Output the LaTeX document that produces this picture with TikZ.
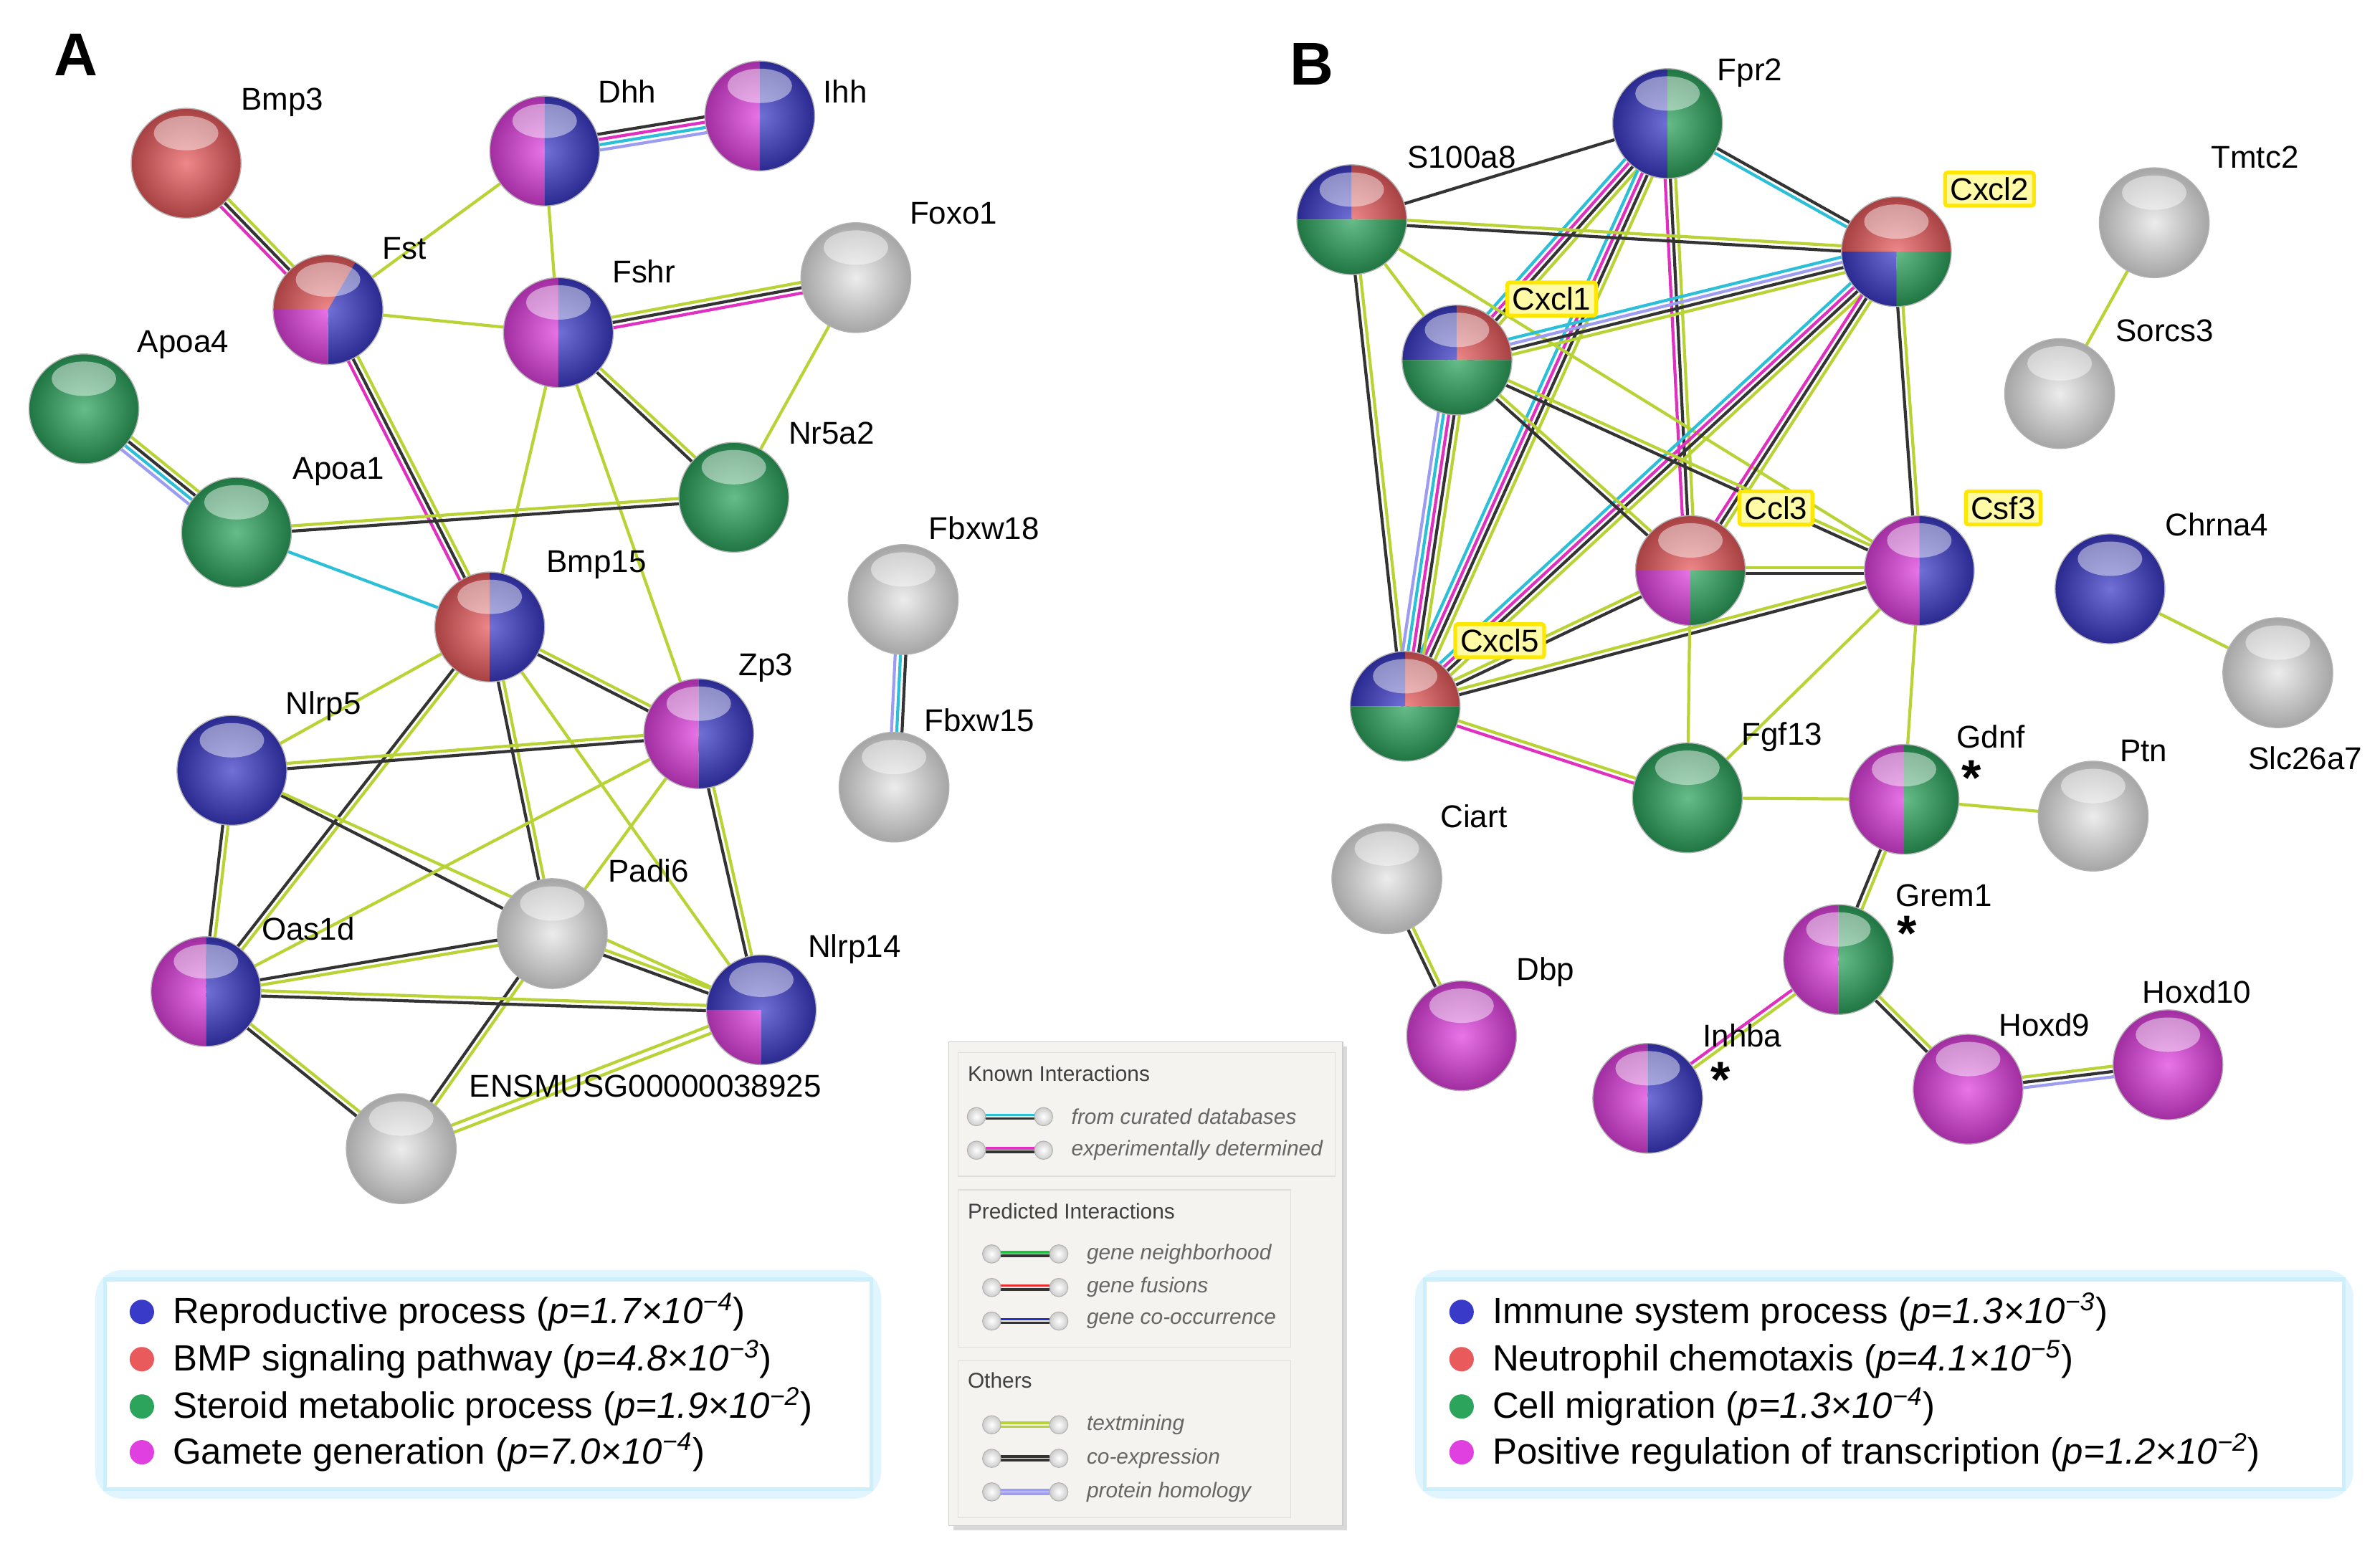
\documentclass[tikz,border=0pt]{standalone}
\usepackage{fontspec}
\setmainfont{Liberation Sans}
\usetikzlibrary{calc,backgrounds}
\definecolor{cR}{HTML}{E85A5C}\definecolor{cB}{HTML}{3A3AC8}\definecolor{cG}{HTML}{2CA45C}
\definecolor{cM}{HTML}{E040E0}\definecolor{cW}{HTML}{E6E6E6}
\definecolor{eL}{HTML}{B8D335}\definecolor{eC}{HTML}{2CC0D8}\definecolor{eM}{HTML}{E030C0}
\definecolor{eH}{HTML}{9C9CF0}\definecolor{eK}{HTML}{333333}
\definecolor{eG}{HTML}{20C040}\definecolor{eR}{HTML}{E83030}\definecolor{eB}{HTML}{2030D0}
\definecolor{lbg}{HTML}{F5F3EF}
\newcommand\ball[3]{%
 \node[circle,minimum size=1.53cm,inner sep=0] (#1) at (#2) {};
 \foreach \cl/\sa/\ea in {#3}{\fill[\cl] (#1.center) -- ++(\sa:0.766cm) arc[start angle=\sa,end angle=\ea,radius=0.766cm] -- cycle;}
 \shade[inner color=white,outer color=black,opacity=0.28] (#1.center) circle (0.766cm);
 \fill[white,opacity=0.45] ($(#1.center)+(0,0.42cm)$) ellipse (0.45cm and 0.24cm);
 \draw[gray!60,line width=0.4pt] (#1.center) circle (0.766cm);}
\newcommand\lnk[3]{\foreach \cl/\o in {#3}{\pgfmathsetlengthmacro\dd{\o*2.1pt}%
 \draw[line width=1.2pt,\cl] ($(#1)!\dd!90:(#2)$) -- ($(#2)!\dd!-90:(#1)$);}}
\tikzset{lab/.style={font=\fontsize{12.5}{15}\selectfont,inner sep=0},
 ybox/.style={lab,fill=yellow!35,draw=yellow!90!orange,line width=1.5pt,inner sep=2pt,rounded corners=1pt},
 leg/.style={font=\fontsize{14.5}{18}\selectfont,anchor=west,inner sep=0},
 sm/.style={font=\fontsize{8.5}{11}\selectfont,anchor=west,inner sep=0,text=gray!80!black},
 smi/.style={sm,font=\fontsize{8.5}{11}\selectfont\itshape}}
\begin{document}
\begin{tikzpicture}[x=0.02128cm,y=-0.02128cm]
\useasboundingbox (0,0) rectangle (1560,1025);
\node[font=\fontsize{24}{26}\selectfont\bfseries] at (50,36) {A};
\node[font=\fontsize{24}{26}\selectfont\bfseries] at (860,42) {B};
% ---------- A nodes
\ball{Bmp3}{122,107}{cR/0/360}
\ball{Dhh}{357,99}{cM/90/270,cB/-90/90}
\ball{Ihh}{498,76}{cM/90/270,cB/-90/90}
\ball{Fst}{215,203}{cR/60/180,cB/-90/60,cM/180/270}
\ball{Fshr}{366,218}{cM/90/270,cB/-90/90}
\ball{Foxo1}{561,182}{cW/0/360}
\ball{Apoa4}{55,268}{cG/0/360}
\ball{Apoa1}{155,349}{cG/0/360}
\ball{Nr5a2}{481,326}{cG/0/360}
\ball{Bmp15}{321,411}{cR/90/270,cB/-90/90}
\ball{Fbxw18}{592,393}{cW/0/360}
\ball{Fbxw15}{586,516}{cW/0/360}
\ball{Nlrp5}{152,505}{cB/0/360}
\ball{Zp3}{458,481}{cM/90/270,cB/-90/90}
\ball{Padi6}{362,612}{cW/0/360}
\ball{Oas1d}{135,650}{cM/90/270,cB/-90/90}
\ball{Nlrp14}{499,662}{cB/-90/180,cM/180/270}
\ball{ENS}{263,753}{cW/0/360}
\foreach \t/\x/\y in {Bmp3/185/67,Dhh/411/60,Ihh/554/60,Fst/265/163,Fshr/422/178,Foxo1/625/140,Apoa4/120/226,Apoa1/222/309,Nr5a2/545/284,Bmp15/391/370,Fbxw18/645/346,Fbxw15/642/472,Nlrp5/212/463,Zp3/502/438,Padi6/425/571,Oas1d/202/609,Nlrp14/560/622,ENSMUSG00000038925/423/712}
 \node[lab] (L\t) at (\x,\y) {\t};
\begin{pgfonlayer}{background}
\lnk{Bmp3}{Fst}{eM/-1,eK/0,eL/1}
\lnk{Dhh}{Ihh}{eH/-1.5,eC/-0.5,eM/0.5,eK/1.5}
\lnk{Fst}{Dhh}{eL/0}
\lnk{Dhh}{Fshr}{eL/0}
\lnk{Fst}{Fshr}{eL/0}
\lnk{Fst}{Bmp15}{eM/-1,eK/0,eL/1}
\lnk{Fshr}{Foxo1}{eM/-1,eK/0,eL/1}
\lnk{Foxo1}{Nr5a2}{eL/0}
\lnk{Fshr}{Nr5a2}{eK/-0.5,eL/0.5}
\lnk{Fshr}{Bmp15}{eL/0}
\lnk{Fshr}{Zp3}{eL/0}
\lnk{Apoa4}{Apoa1}{eH/-1.5,eC/-0.5,eK/0.5,eL/1.5}
\lnk{Apoa1}{Nr5a2}{eK/-0.5,eL/0.5}
\lnk{Apoa1}{Bmp15}{eC/0}
\lnk{Bmp15}{Nlrp5}{eL/0}
\lnk{Bmp15}{Zp3}{eK/-0.5,eL/0.5}
\lnk{Bmp15}{Padi6}{eK/-0.5,eL/0.5}
\lnk{Bmp15}{Oas1d}{eK/-0.5,eL/0.5}
\lnk{Bmp15}{Nlrp14}{eL/0}
\lnk{Nlrp5}{Zp3}{eK/-0.5,eL/0.5}
\lnk{Nlrp5}{Oas1d}{eK/-0.5,eL/0.5}
\lnk{Nlrp5}{Padi6}{eK/0}
\lnk{Nlrp5}{Nlrp14}{eL/0}
\lnk{Zp3}{Padi6}{eL/0}
\lnk{Zp3}{Oas1d}{eL/0}
\lnk{Zp3}{Nlrp14}{eK/-0.5,eL/0.5}
\lnk{Padi6}{Oas1d}{eK/-0.5,eL/0.5}
\lnk{Padi6}{Nlrp14}{eK/-0.5,eL/0.5}
\lnk{Padi6}{ENS}{eK/-0.5,eL/0.5}
\lnk{Oas1d}{Nlrp14}{eK/-0.5,eL/0.5}
\lnk{Oas1d}{ENS}{eK/-0.5,eL/0.5}
\lnk{ENS}{Nlrp14}{eL/-0.7,eL/0.7}
\lnk{Fbxw18}{Fbxw15}{eH/-1,eC/0,eK/1}
\end{pgfonlayer}
% ---------- B nodes
\ball{Fpr2}{1093,81}{cB/90/270,cG/-90/90}
\ball{S100a8}{886,144}{cR/0/90,cB/90/180,cG/180/360}
\ball{Cxcl2}{1243,165}{cR/0/180,cB/180/270,cG/270/360}
\ball{Tmtc2}{1412,146}{cW/0/360}
\ball{Cxcl1}{955,236}{cR/0/90,cB/90/180,cG/180/360}
\ball{Sorcs3}{1350,258}{cW/0/360}
\ball{Ccl3}{1108,374}{cR/0/180,cM/180/270,cG/270/360}
\ball{Csf3}{1258,374}{cM/90/270,cB/-90/90}
\ball{Chrna4}{1383,386}{cB/0/360}
\ball{Cxcl5}{921,463}{cR/0/90,cB/90/180,cG/180/360}
\ball{Slc26a7}{1493,441}{cW/0/360}
\ball{Fgf13}{1106,523}{cG/0/360}
\ball{Gdnf}{1248,524}{cM/90/270,cG/-90/90}
\ball{Ptn}{1372,535}{cW/0/360}
\ball{Ciart}{909,576}{cW/0/360}
\ball{Grem1}{1205,629}{cM/90/270,cG/-90/90}
\ball{Dbp}{958,679}{cM/0/360}
\ball{Hoxd10}{1421,698}{cM/0/360}
\ball{Hoxd9}{1290,714}{cM/0/360}
\ball{Inhba}{1080,720}{cM/90/270,cB/-90/90}
\foreach \t/\x/\y in {Fpr2/1147/48,S100a8/958/103,Tmtc2/1478/103,Sorcs3/1419/217,Chrna4/1453/344,Slc26a7/1511/497,Fgf13/1168/483,Gdnf/1305/483,Ptn/1405/492,Ciart/966/535,Grem1/1274/587,Dbp/1013/637,Hoxd10/1440/650,Hoxd9/1340/672,Inhba/1142/679}
 \node[lab] (L\t) at (\x,\y) {\t};
\foreach \t/\x/\y in {Cxcl2/1304/124,Cxcl1/1017/196,Ccl3/1164/333,Csf3/1313/333,Cxcl5/983/420}
 \node[ybox] (L\t) at (\x,\y) {\t};
\foreach \n/\x/\y in {a1/1292/510,a2/1250/612,a3/1128/708}
 \node[font=\fontsize{20}{20}\selectfont\bfseries,inner sep=0] (\n) at (\x,\y) {*};
\begin{pgfonlayer}{background}
\lnk{Fpr2}{S100a8}{eK/0}
\lnk{Fpr2}{Cxcl2}{eC/-0.5,eK/0.5}
\lnk{Fpr2}{Cxcl1}{eC/-1.5,eM/-0.5,eK/0.5,eL/1.5}
\lnk{Fpr2}{Cxcl5}{eC/-1.5,eM/-0.5,eK/0.5,eL/1.5}
\lnk{Fpr2}{Ccl3}{eM/-1,eK/0,eL/1}
\lnk{S100a8}{Cxcl2}{eK/-0.5,eL/0.5}
\lnk{S100a8}{Cxcl1}{eL/0}
\lnk{S100a8}{Cxcl5}{eK/-0.5,eL/0.5}
\lnk{S100a8}{Csf3}{eL/0}
\lnk{Cxcl2}{Cxcl1}{eC/-1.5,eH/-0.5,eK/0.5,eL/1.5}
\lnk{Cxcl2}{Cxcl5}{eC/-1.5,eM/-0.5,eK/0.5,eL/1.5}
\lnk{Cxcl2}{Ccl3}{eM/-1,eK/0,eL/1}
\lnk{Cxcl2}{Csf3}{eK/-0.5,eL/0.5}
\lnk{Cxcl1}{Cxcl5}{eH/-2,eC/-1,eM/0,eK/1,eL/2}
\lnk{Cxcl1}{Ccl3}{eK/-0.5,eL/0.5}
\lnk{Cxcl1}{Csf3}{eK/-0.5,eL/0.5}
\lnk{Cxcl5}{Ccl3}{eK/-0.5,eL/0.5}
\lnk{Cxcl5}{Csf3}{eK/-0.5,eL/0.5}
\lnk{Ccl3}{Csf3}{eK/-0.5,eL/0.5}
\lnk{Cxcl5}{Fgf13}{eM/-0.5,eL/0.5}
\lnk{Ccl3}{Fgf13}{eL/0}
\lnk{Csf3}{Fgf13}{eL/0}
\lnk{Csf3}{Gdnf}{eL/0}
\lnk{Fgf13}{Gdnf}{eL/0}
\lnk{Gdnf}{Ptn}{eL/0}
\lnk{Gdnf}{Grem1}{eK/-0.5,eL/0.5}
\lnk{Grem1}{Inhba}{eM/-0.5,eL/0.5}
\lnk{Grem1}{Hoxd9}{eK/-0.5,eL/0.5}
\lnk{Hoxd9}{Hoxd10}{eH/-1,eK/0,eL/1}
\lnk{Ciart}{Dbp}{eK/-0.5,eL/0.5}
\lnk{Tmtc2}{Sorcs3}{eL/0}
\lnk{Chrna4}{Slc26a7}{eL/0}
\end{pgfonlayer}
% ---------- legends A/B
\foreach \a/\b in {70/570,935/1535}{
 \draw[cyan!12,line width=9pt,rounded corners=6pt] (\a,840) rectangle (\b,975);
 \draw[cyan!20,line width=3pt] (\a,840) rectangle (\b,975);
 \fill[white] (\a,840) rectangle (\b,975);}
\foreach \c/\y/\t in {cB/860/{Reproductive process ({\itshape p=1.7×10\textsuperscript{−4}})},cR/891/{BMP signaling pathway ({\itshape p=4.8×10\textsuperscript{−3}})},cG/922/{Steroid metabolic process ({\itshape p=1.9×10\textsuperscript{−2}})},cM/952/{Gamete generation ({\itshape p=7.0×10\textsuperscript{−4}})}}{
 \fill[\c] (93,\y) circle (8);
 \node[leg] at (113,\y) {\t};}
\foreach \c/\y/\t in {cB/860/{Immune system process ({\itshape p=1.3×10\textsuperscript{−3}})},cR/891/{Neutrophil chemotaxis ({\itshape p=4.1×10\textsuperscript{−5}})},cG/922/{Cell migration ({\itshape p=1.3×10\textsuperscript{−4}})},cM/952/{Positive regulation of transcription ({\itshape p=1.2×10\textsuperscript{−2}})}}{
 \fill[\c] (958,\y) circle (8);
 \node[leg] at (978,\y) {\t};}
% ---------- middle legend
\fill[gray!30] (625,686) rectangle (883,1003);
\fill[lbg] (622,683) rectangle (880,1000);
\draw[gray!40] (622,683) rectangle (880,1000);
\draw[gray!25] (628,690) rectangle (875,771);
\draw[gray!25] (628,780) rectangle (846,883);
\draw[gray!25] (628,892) rectangle (846,995);
\node[sm,text=black!75] at (634,704) {Known Interactions};
\node[sm,text=black!75] at (634,794) {Predicted Interactions};
\node[sm,text=black!75] at (634,905) {Others};
\foreach \x/\y/\ca/\cb/\t in {640/732/eC/eK/from curated databases,640/754/eM/eK/experimentally determined,650/822/eG/eK/gene neighborhood,650/844/eR/eK/gene fusions,650/866/eB/eK/gene co-occurrence,650/934/eL/eL/textmining,650/956/eK/eK/co-expression,650/978/eH/eH/protein homology}{
 \draw[\ca,line width=1pt] (\x+6,\y-1.2) -- (\x+38,\y-1.2);
 \draw[\cb,line width=1pt] (\x+6,\y+1.2) -- (\x+38,\y+1.2);
 \foreach \bx in {\x,\x+44}{\shade[inner color=white,outer color=gray!40] (\bx,\y) circle (6);\draw[gray!60,line width=0.3pt] (\bx,\y) circle (6);}
 \node[smi] at (\x+62,\y) {\t};}
\end{tikzpicture}
\end{document}
